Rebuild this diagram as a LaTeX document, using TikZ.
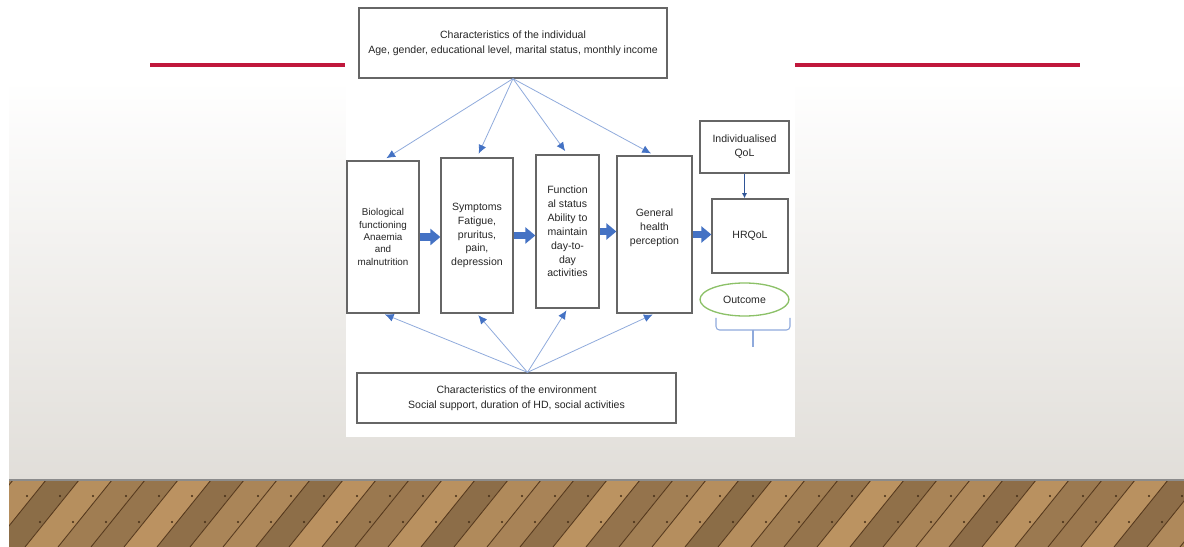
\documentclass[tikz,border=0pt]{standalone}
\usepackage{fontspec}
\setmainfont{Liberation Sans}
\usetikzlibrary{arrows.meta,shapes.geometric}
\definecolor{linkblue}{HTML}{8FAADC}
\definecolor{tipblue}{HTML}{4472C4}
\definecolor{darkblue}{HTML}{2F5597}
\definecolor{slidered}{HTML}{C0183C}
\definecolor{wallgray}{HTML}{E1DED9}
\definecolor{plank}{HTML}{BF9867}
\definecolor{boxline}{HTML}{666666}
\definecolor{ovalgreen}{HTML}{8CC168}
\tikzset{
  box/.style={draw=boxline,line width=0.75pt,fill=white,align=center,inner sep=1pt,
    font=\fontsize{6}{7.9}\selectfont,text=black!85},
  link/.style={draw=linkblue,line width=0.45pt,-{Latex[length=5pt,width=4.5pt,color=tipblue]}},
  fat/.style={draw=tipblue,line width=0.15cm,-{Triangle[length=0.2cm,width=0.32cm]}},
}
\begin{document}
\begin{tikzpicture}[x=0.02cm,y=-0.02cm]
\useasboundingbox (0,0) rectangle (1184,547);
\fill[white] (0,0) rectangle (1184,547);
\shade[top color=white,bottom color=wallgray] (9,80) rectangle (1184,480);
\begin{scope}
\clip (9,480) rectangle (1184,547);
\foreach \i in {0,...,40} {
  \pgfmathsetmacro\pct{84+14*sin(\i*137)}
  \fill[plank!\pct!black!90!brown] (\i*33-20,480) -- ++(33,0) -- ++(-54,67) -- ++(-33,0) -- cycle;
  \draw[black!55!brown,line width=0.5pt] (\i*33-20,480) -- ++(-54,67);
  \fill[black!65!brown] (\i*33-6,496) circle (0.6pt);
  \fill[black!65!brown] (\i*33-26,522) circle (0.6pt);
}
\end{scope}
\draw[black!45,line width=1pt] (9,480) -- (1184,480);
\draw[slidered,line width=2pt] (150,65) -- (345,65);
\draw[slidered,line width=2pt] (795,65) -- (1080,65);
\fill[white] (346,0) rectangle (795,437);

\node  (indiv) at (513,43)     [box,minimum width=6.16cm,minimum height=1.4cm,font=\fontsize{6}{8.5}\selectfont] {Characteristics of the individual\\Age, gender, educational level, marital status, monthly income};
\node    (env) at (516.5,398)  [box,minimum width=6.38cm,minimum height=1cm,font=\fontsize{6}{8.5}\selectfont] {Characteristics of the environment\\Social support, duration of HD, social activities};
\node    (bio) at (383,237)    [box,minimum width=1.44cm,minimum height=3.04cm,font=\fontsize{5.6}{7}\selectfont] {Biological\\functioning\\Anaemia\\and\\malnutrition};
\node   (symp) at (477,235.5)  [box,minimum width=1.44cm,minimum height=3.1cm] {Symptoms\\Fatigue,\\pruritus,\\pain,\\depression};
\node   (func) at (567.5,231.5) [box,minimum width=1.26cm,minimum height=3.06cm] {Function\\al status\\Ability to\\maintain\\day-to-\\day\\activities};
\node    (gen) at (654.5,234.5) [box,minimum width=1.5cm,minimum height=3.14cm] {General\\health\\perception\\[1pt]};
\node  (hrqol) at (750,236)    [box,minimum width=1.52cm,minimum height=1.48cm] {HRQoL};
\node   (iqol) at (744.5,147)  [box,minimum width=1.78cm,minimum height=1.04cm] {Individualised\\QoL};
\node (outcome) at (744.5,299.5) [box,ellipse,draw=ovalgreen,minimum width=1.78cm,minimum height=0.66cm] {Outcome};

\draw [link,shorten >=0.08cm] (indiv.south) -- (bio.north);
\draw [link,shorten >=0.08cm] (indiv.south) -- (symp.north);
\draw [link,shorten >=0.08cm] (indiv.south) -- (func.north);
\draw [link,shorten >=0.08cm] (indiv.south) -- (gen.north);
\draw [link,shorten >=0.04cm] ([xshift=0.22cm]env.north) -- (bio.south);
\draw [link,shorten >=0.04cm] ([xshift=0.22cm]env.north) -- (symp.south);
\draw [link,shorten >=0.04cm] ([xshift=0.22cm]env.north) -- (func.south);
\draw [link,shorten >=0.04cm] ([xshift=0.22cm]env.north) -- (gen.south);
\draw [fat] (bio.east) -- (bio.east -| symp.west);
\draw [fat] (symp.east) -- (symp.east -| func.west);
\draw [fat] (func.east) -- (func.east -| gen.west);
\draw [fat] (gen.east) -- (gen.east -| hrqol.west);
\draw [darkblue,line width=0.9pt,-{Latex[length=3pt,width=3pt]}] (iqol.south) -- (iqol.south |- hrqol.north);
\draw [linkblue,line width=0.6pt,rounded corners=2pt] (716,318) -- (716,330) -- (790,330) -- (790,318);
\draw [linkblue,line width=0.6pt] (753,330) -- (753,347);
\end{tikzpicture}
\end{document}
